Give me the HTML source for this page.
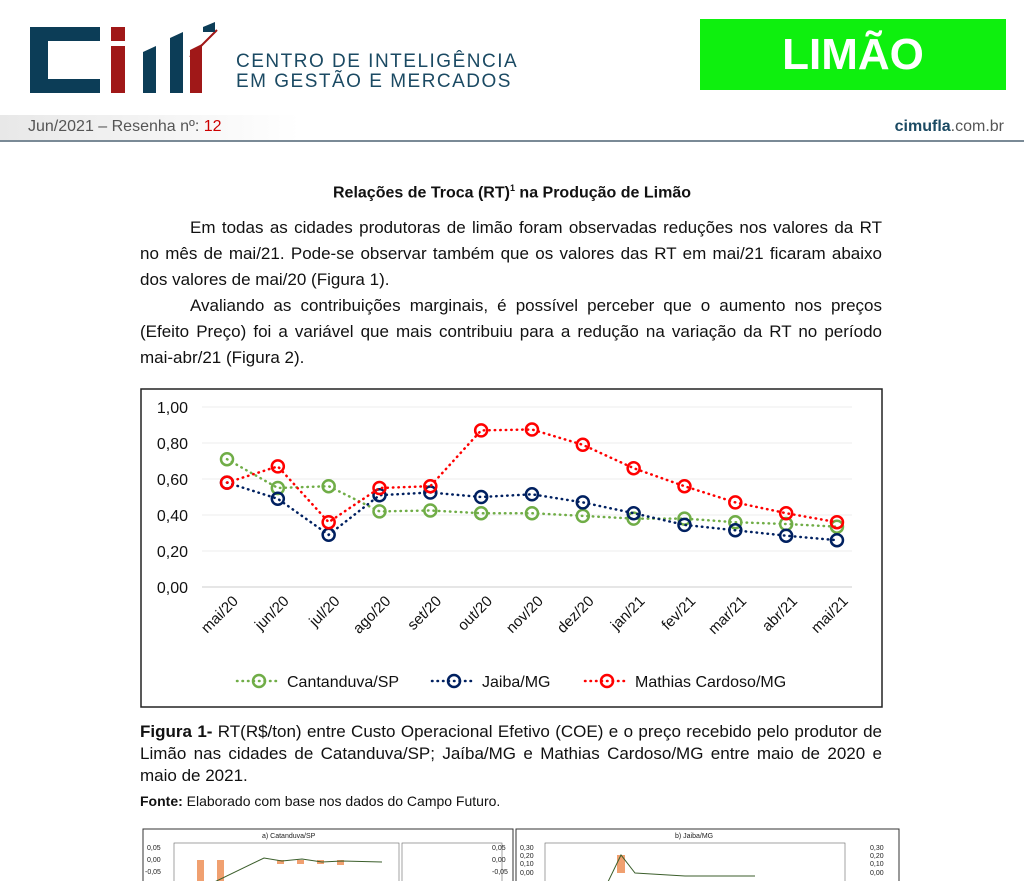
<!DOCTYPE html>
<html><head><meta charset="utf-8">
<style>
body{margin:0;width:1024px;height:881px;overflow:hidden;background:#fff;font-family:"Liberation Sans",sans-serif;position:relative;color:#111}
.abs{position:absolute}
p{margin:0}
.para{position:absolute;left:140px;width:742px;font-size:17px;line-height:26px;text-align:justify;text-align-last:left}
</style></head><body>
<svg class="abs" style="left:25px;top:22px" width="200" height="72">
<path d="M5 5h70v14h-52v38h52v14h-70z" fill="#0c3d57"/>
<rect x="86" y="5" width="14" height="14" fill="#a01818"/>
<rect x="86" y="24" width="14" height="47" fill="#a01818"/>
<path d="M118 30l13-6v47h-13z" fill="#0c3d57"/>
<path d="M145 16l13-6v61h-13z" fill="#0c3d57"/>
<path d="M165 28l12-6v49h-12z" fill="#a01818"/>
<path d="M165 35L192 8" stroke="#a01818" stroke-width="2"/>
<path d="M178 5l12-5v10h-12z" fill="#0c3d57"/>
</svg>
<div class="abs" style="left:236px;top:52px;font-size:19px;line-height:20px;color:#1b4a63;letter-spacing:1.5px">CENTRO DE INTELIGÊNCIA<br>EM GESTÃO E MERCADOS</div>
<div class="abs" style="left:700px;top:19px;width:306px;height:71px;background:#0ef00e;color:#fff;font-weight:bold;font-size:44px;line-height:71px;text-align:center">LIMÃO</div>
<div class="abs" style="left:0;top:115px;width:300px;height:25px;background:linear-gradient(90deg,#e8e8e8,#fff)"></div>
<div class="abs" style="left:28px;top:118px;font-size:16px;color:#555">Jun/2021 – Resenha nº: <span style="color:#c00">12</span></div>
<div class="abs" style="right:20px;top:118px;font-size:16px;color:#555"><b style="color:#1b4a63">cimufla</b>.com.br</div>
<div class="abs" style="left:0;top:140px;width:1024px;height:2px;background:#7a8a96"></div>
<div class="abs" style="left:0;top:183px;width:1024px;text-align:center;font-weight:bold;font-size:16px">Relações de Troca (RT)<sup style="font-size:9px">1</sup> na Produção de Limão</div>
<p class="para" style="top:215px;text-indent:50px">Em todas as cidades produtoras de limão foram observadas reduções nos valores da RT no mês de mai/21. Pode-se observar também que os valores das RT em mai/21 ficaram abaixo dos valores de mai/20 (Figura 1).</p>
<p class="para" style="top:293px;text-indent:50px">Avaliando as contribuições marginais, é possível perceber que o aumento nos preços (Efeito Preço) foi a variável que mais contribuiu para a redução na variação da RT no período mai-abr/21 (Figura 2).</p>
<svg id="chart" class="abs" style="left:140px;top:388px" width="743" height="320"></svg>
<p class="para" style="top:721px;line-height:22px;font-size:17px"><b>Figura 1-</b> RT(R$/ton) entre Custo Operacional Efetivo (COE) e o preço recebido pelo produtor de Limão nas cidades de Catanduva/SP; Jaíba/MG e Mathias Cardoso/MG entre maio de 2020 e maio de 2021.</p>
<p class="abs" style="left:140px;top:793px;font-size:14px"><b>Fonte:</b> Elaborado com base nos dados do Campo Futuro.</p>
<svg class="abs" style="left:142px;top:828px" width="373" height="53">
<rect x="1" y="1" width="370" height="60" fill="#fff" stroke="#333"/>
<text x="120" y="10" font-size="7" fill="#222">a) Catanduva/SP</text>
<rect x="32" y="15" width="225" height="45" fill="none" stroke="#666" stroke-width=".6"/>
<text x="5" y="22" font-size="7" fill="#222">0,05</text><text x="5" y="34" font-size="7" fill="#222">0,00</text><text x="3" y="46" font-size="7" fill="#222">-0,05</text>
<text x="350" y="22" font-size="7" fill="#222">0,05</text><text x="350" y="34" font-size="7" fill="#222">0,00</text><text x="350" y="46" font-size="7" fill="#222">-0,05</text>
<rect x="260" y="15" width="100" height="45" fill="none" stroke="#666" stroke-width=".6"/>
<g fill="#f0a070"><rect x="55" y="32" width="7" height="25"/><rect x="75" y="32" width="7" height="25"/><rect x="135" y="32" width="7" height="4"/><rect x="155" y="32" width="7" height="4"/><rect x="175" y="32" width="7" height="4"/><rect x="195" y="32" width="7" height="5"/></g>
<path d="M60 60L122 30L140 33L160 31L180 34L200 33L240 34" stroke="#3b5e2b" fill="none"/>
</svg>
<svg class="abs" style="left:515px;top:828px" width="385" height="53">
<rect x="1" y="1" width="383" height="60" fill="#fff" stroke="#333"/>
<text x="160" y="10" font-size="7" fill="#222">b) Jaiba/MG</text>
<rect x="30" y="15" width="300" height="45" fill="none" stroke="#666" stroke-width=".6"/>
<text x="5" y="22" font-size="7" fill="#222">0,30</text><text x="5" y="30" font-size="7" fill="#222">0,20</text><text x="5" y="38" font-size="7" fill="#222">0,10</text><text x="5" y="47" font-size="7" fill="#222">0,00</text>
<text x="355" y="22" font-size="7" fill="#222">0,30</text><text x="355" y="30" font-size="7" fill="#222">0,20</text><text x="355" y="38" font-size="7" fill="#222">0,10</text><text x="355" y="47" font-size="7" fill="#222">0,00</text>
<rect x="102" y="27" width="8" height="18" fill="#f0a070"/>
<path d="M90 60L106 27L120 45L170 48L240 48" stroke="#3b5e2b" fill="none"/>
</svg>
<script>
const categories=["mai/20","jun/20","jul/20","ago/20","set/20","out/20","nov/20","dez/20","jan/21","fev/21","mar/21","abr/21","mai/21"];
const catanduva=[0.71,0.55,0.56,0.42,0.425,0.41,0.41,0.395,0.38,0.38,0.36,0.35,0.335];
const jaiba=[0.58,0.49,0.29,0.51,0.525,0.50,0.515,0.47,0.41,0.345,0.315,0.285,0.26];
const mathias=[0.58,0.67,0.36,0.55,0.56,0.87,0.875,0.79,0.66,0.56,0.47,0.41,0.36];
const yTicks=[0,0.2,0.4,0.6,0.8,1.0];
const seriesNames=["Cantanduva/SP","Jaiba/MG","Mathias Cardoso/MG"];
const NS="http://www.w3.org/2000/svg";
const svg=document.getElementById("chart");
const x=i=>87+i*50.83, y=v=>199-v*180;
function mk(t,a,p){const e=document.createElementNS(NS,t);for(const k in a)e.setAttribute(k,a[k]);(p||svg).appendChild(e);return e;}
const frame=mk("rect",{x:1,y:1,width:741,height:318,fill:"#fff",stroke:"#222","stroke-width":1.5});


yTicks.forEach(t=>{
 const g=mk("line",{x1:62,x2:712,y1:y(t),y2:y(t),stroke:t===0?"#ccc":"#eee","stroke-width":1});
 
 
 const l=mk("text",{x:48,y:y(t)+6,"text-anchor":"end","font-size":16,fill:"#111"});
 l.textContent=t.toFixed(2).replace(".",",");
 
 
});
categories.forEach((c,i)=>{
 const t=mk("text",{x:x(i)+12,y:214,"text-anchor":"end","font-size":15,fill:"#111",transform:`rotate(-45 ${x(i)+12} 214)`});
 t.textContent=c;
 
 
});
const cols=["#70ad47","#002060","#ff0000"];
[catanduva,jaiba,mathias].forEach((s,k)=>{
 const pl=mk("polyline",{points:s.map((v,i)=>x(i)+","+y(v)).join(" "),fill:"none",stroke:cols[k],"stroke-width":2.5,"stroke-dasharray":"0.5 5","stroke-linecap":"round"});
 
 
 s.forEach((v,i)=>{
  const c=mk("circle",{cx:x(i),cy:y(v),r:6,fill:"none",stroke:cols[k],"stroke-width":2.5});
  
  
 });
});
const lx=[97,292,445];
seriesNames.forEach((n,k)=>{
 const ln=mk("line",{x1:lx[k],x2:lx[k]+44,y1:293,y2:293,stroke:cols[k],"stroke-width":2.5,"stroke-dasharray":"0.5 5","stroke-linecap":"round"});
 
 
 const c=mk("circle",{cx:lx[k]+22,cy:293,r:6,fill:"none",stroke:cols[k],"stroke-width":2.5});
 
 
 const t=mk("text",{x:lx[k]+50,y:299,"font-size":16,fill:"#111"});
 t.textContent=n;
 
 
});
</script>
</body></html>
